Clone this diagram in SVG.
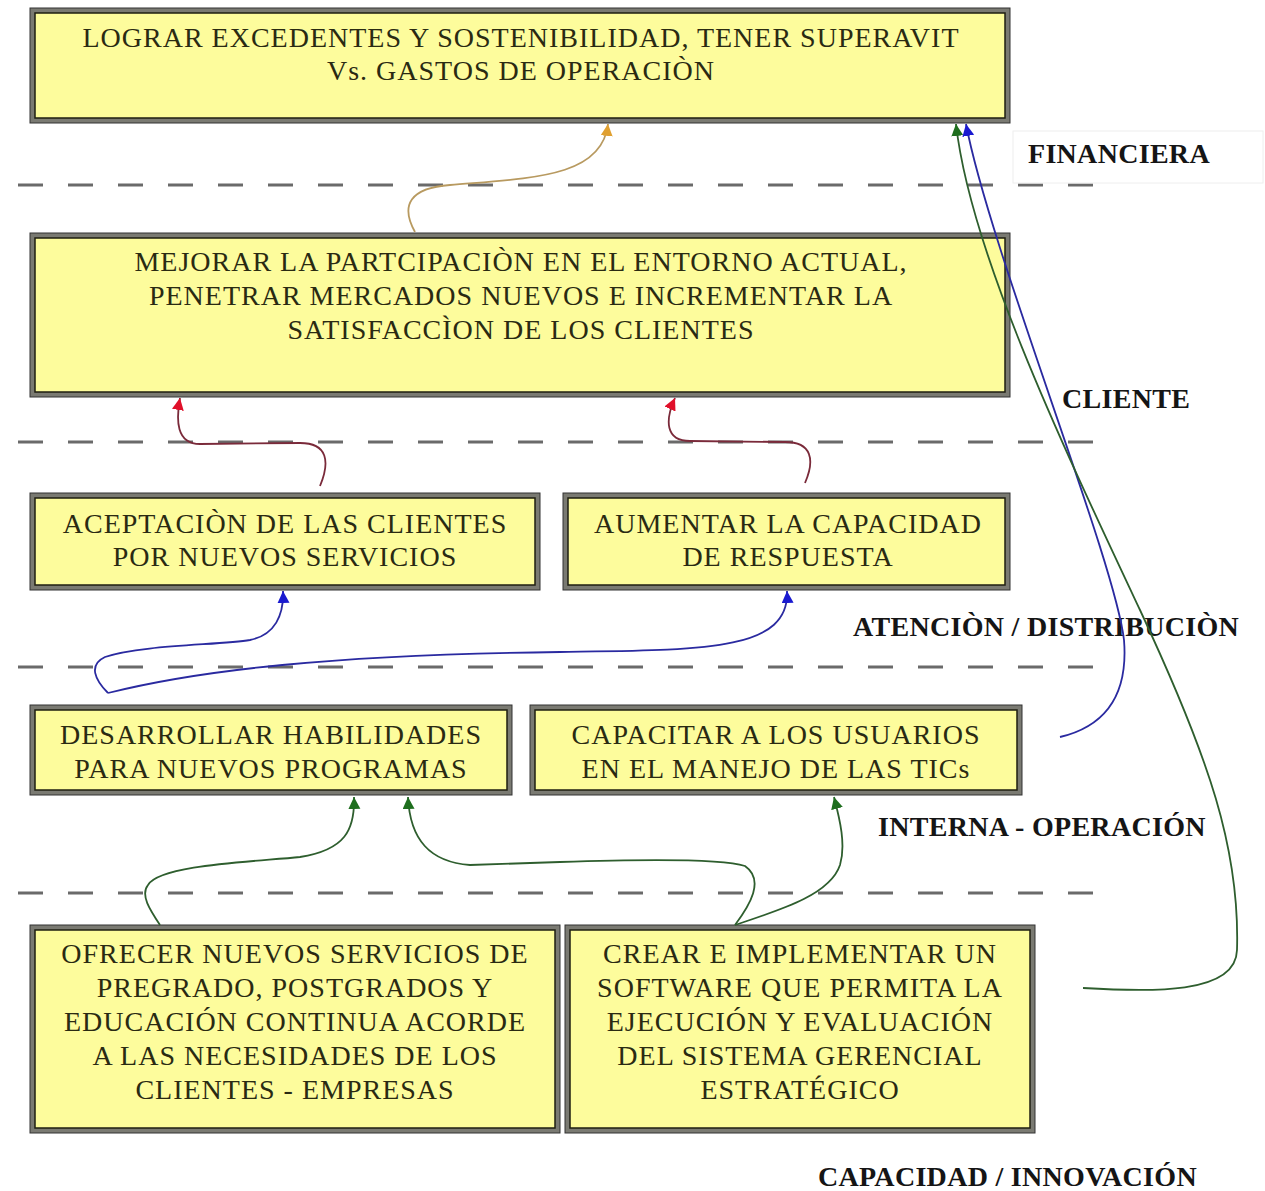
<svg xmlns="http://www.w3.org/2000/svg" width="1265" height="1191" viewBox="0 0 1265 1191">
<style>
.outer{fill:#7a7a72;stroke:#333;stroke-width:1}
.inner{fill:#fdfc9c;stroke:#1e1e10;stroke-width:1.5}
.t{font-family:'Liberation Serif','DejaVu Serif',serif;font-size:28px;letter-spacing:1px;fill:#2a2a12;text-anchor:middle}
.lbl{font-family:'Liberation Serif','DejaVu Serif',serif;font-size:28px;letter-spacing:0.3px;font-weight:bold;fill:#151515}
.dash{stroke:#6a6a6a;stroke-width:3;stroke-dasharray:25 25;fill:none}
.c{fill:none;stroke-width:1.8}
</style>
<defs>
<marker id="aOr" markerUnits="userSpaceOnUse" markerWidth="14" markerHeight="14" refX="12" refY="6" orient="auto"><path d="M0,0 L12,6 L0,12 Z" fill="#e0a030"/></marker>
<marker id="aRd" markerUnits="userSpaceOnUse" markerWidth="14" markerHeight="14" refX="12" refY="6" orient="auto"><path d="M0,0 L12,6 L0,12 Z" fill="#e0102a"/></marker>
<marker id="aBl" markerUnits="userSpaceOnUse" markerWidth="14" markerHeight="14" refX="12" refY="6" orient="auto"><path d="M0,0 L12,6 L0,12 Z" fill="#1a1ad0"/></marker>
<marker id="aGr" markerUnits="userSpaceOnUse" markerWidth="14" markerHeight="14" refX="12" refY="6" orient="auto"><path d="M0,0 L12,6 L0,12 Z" fill="#1e6e1e"/></marker>
</defs>
<rect width="1265" height="1191" fill="#fff"/>

<g id="separators">
<line class="dash" x1="18" y1="185" x2="1108" y2="185"/>
<line class="dash" x1="18" y1="442" x2="1108" y2="442"/>
<line class="dash" x1="18" y1="667" x2="1108" y2="667"/>
<line class="dash" x1="18" y1="893" x2="1108" y2="893"/>
</g>

<g id="labels">
<rect x="1013" y="131" width="250" height="52" fill="none" stroke="#eeeeee" stroke-width="1"/>
<text class="lbl" x="1028" y="163">FINANCIERA</text>
<text class="lbl" x="1062" y="408">CLIENTE</text>
<text class="lbl" x="853" y="636">ATENCIÒN / DISTRIBUCIÒN</text>
<text class="lbl" x="878" y="836">INTERNA - OPERACIÓN</text>
<text class="lbl" x="818" y="1186">CAPACIDAD / INNOVACIÓN</text>
</g>

<g id="n1">
<rect class="outer" x="30" y="8" width="980" height="115"/>
<rect class="inner" x="35" y="13" width="970" height="105"/>
<text class="t" x="521" y="47">LOGRAR EXCEDENTES  Y SOSTENIBILIDAD, TENER SUPERAVIT</text>
<text class="t" x="521" y="80">Vs. GASTOS DE OPERACIÒN</text>
</g>
<g id="n2">
<rect class="outer" x="30" y="233" width="980" height="164"/>
<rect class="inner" x="35" y="238" width="970" height="154"/>
<text class="t" x="521" y="271">MEJORAR LA PARTCIPACIÒN EN EL ENTORNO ACTUAL,</text>
<text class="t" x="521" y="305">PENETRAR MERCADOS NUEVOS E INCREMENTAR LA</text>
<text class="t" x="521" y="339">SATISFACCÌON DE LOS CLIENTES</text>
</g>
<g id="n3">
<rect class="outer" x="30" y="493" width="510" height="97"/>
<rect class="inner" x="35" y="498" width="500" height="87"/>
<text class="t" x="285" y="533">ACEPTACIÒN DE LAS CLIENTES</text>
<text class="t" x="285" y="566">POR NUEVOS SERVICIOS</text>
</g>
<g id="n4">
<rect class="outer" x="563" y="493" width="447" height="97"/>
<rect class="inner" x="568" y="498" width="437" height="87"/>
<text class="t" x="788" y="533">AUMENTAR LA CAPACIDAD</text>
<text class="t" x="788" y="566">DE RESPUESTA</text>
</g>
<g id="n5">
<rect class="outer" x="30" y="705" width="482" height="90"/>
<rect class="inner" x="35" y="710" width="472" height="80"/>
<text class="t" x="271" y="744">DESARROLLAR HABILIDADES</text>
<text class="t" x="271" y="778">PARA NUEVOS PROGRAMAS</text>
</g>
<g id="n6">
<rect class="outer" x="530" y="705" width="492" height="90"/>
<rect class="inner" x="535" y="710" width="482" height="80"/>
<text class="t" x="776" y="744">CAPACITAR A LOS USUARIOS</text>
<text class="t" x="776" y="778">EN EL MANEJO DE LAS TICs</text>
</g>
<g id="n7">
<rect class="outer" x="30" y="925" width="530" height="208"/>
<rect class="inner" x="35" y="930" width="520" height="198"/>
<text class="t" x="295" y="963">OFRECER NUEVOS SERVICIOS DE</text>
<text class="t" x="295" y="997">PREGRADO, POSTGRADOS Y</text>
<text class="t" x="295" y="1031">EDUCACIÓN CONTINUA ACORDE</text>
<text class="t" x="295" y="1065">A LAS NECESIDADES DE LOS</text>
<text class="t" x="295" y="1099">CLIENTES - EMPRESAS</text>
</g>
<g id="n8">
<rect class="outer" x="565" y="925" width="470" height="208"/>
<rect class="inner" x="570" y="930" width="460" height="198"/>
<text class="t" x="800" y="963">CREAR E IMPLEMENTAR UN</text>
<text class="t" x="800" y="997">SOFTWARE QUE PERMITA LA</text>
<text class="t" x="800" y="1031">EJECUCIÓN Y EVALUACIÓN</text>
<text class="t" x="800" y="1065">DEL SISTEMA GERENCIAL</text>
<text class="t" x="800" y="1099">ESTRATÉGICO</text>
</g>

<g id="connectors">
<path class="c" stroke="#b89a60" marker-end="url(#aOr)" d="M 415 232 C 400 205, 410 188, 450 185 C 530 178, 602 178, 608 124"/>
<path class="c" stroke="#7a2a3a" marker-end="url(#aRd)" d="M 320 486 C 330 462, 328 443, 300 443 L 200 444 C 176 444, 176 420, 180 398"/>
<path class="c" stroke="#7a2a3a" marker-end="url(#aRd)" d="M 805 483 C 815 460, 812 442, 785 442 L 690 441 C 665 441, 665 420, 675 398"/>
<path class="c" stroke="#2a2aa0" marker-end="url(#aBl)" d="M 108 693 C 95 680, 88 665, 105 657 C 140 645, 220 645, 250 640 C 275 635, 284 615, 283 591"/>
<path class="c" stroke="#2a2aa0" marker-end="url(#aBl)" d="M 108 693 C 200 670, 330 655, 560 652 C 700 650, 790 652, 787 591"/>
<path class="c" stroke="#2a2aa0" marker-end="url(#aBl)" d="M 1060 737 C 1110 725, 1128 690, 1124 640 C 1115 560, 990 250, 966 124"/>
<path class="c" stroke="#2e5e2e" marker-end="url(#aGr)" d="M 1083 988 C 1150 992, 1236 995, 1237 950 C 1240 850, 1210 760, 1140 610 C 1060 440, 970 250, 956 124"/>
<path class="c" stroke="#2e5e2e" marker-end="url(#aGr)" d="M 160 925 C 150 910, 140 895, 148 885 C 160 865, 250 862, 300 857 C 345 850, 355 830, 354 797"/>
<path class="c" stroke="#2e5e2e" marker-end="url(#aGr)" d="M 735 925 C 750 905, 765 880, 745 866 C 720 858, 620 860, 560 862 L 470 865 C 430 862, 410 840, 408 797"/>
<path class="c" stroke="#2e5e2e" marker-end="url(#aGr)" d="M 735 925 C 780 910, 830 895, 840 865 C 846 845, 840 820, 834 797"/>
</g>
</svg>
